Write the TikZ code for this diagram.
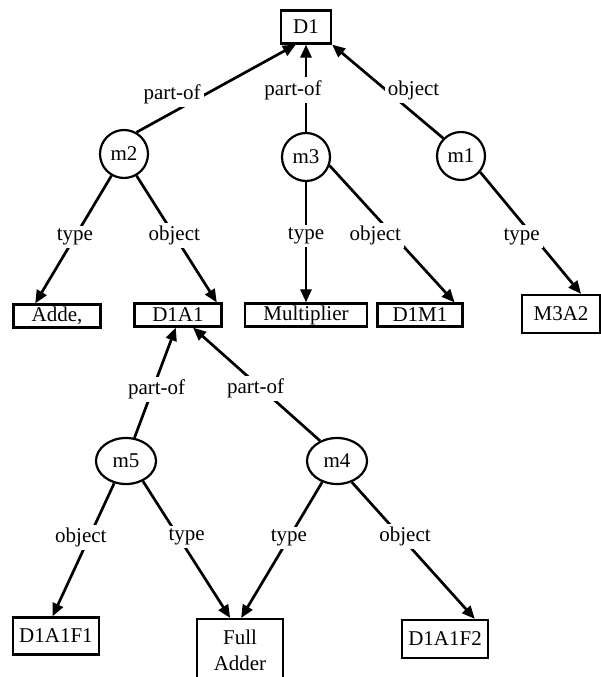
\documentclass[tikz,border=0pt]{standalone}
\usepackage{fontspec}
\setmainfont{Liberation Serif}
\usepackage{tikz}
\usetikzlibrary{arrows.meta}
\usetikzlibrary{shapes.geometric}
\newcommand{\netfont}{\fontsize{21}{26}\selectfont}

\begin{document}
\begin{tikzpicture}[x=1pt,y=-1pt,
    base/.style={draw, line width=2.2pt, inner sep=1pt, minimum height=23pt, font=\netfont},
    mol/.style={draw, circle, line width=2.2pt, inner sep=0pt, minimum size=48pt, font=\netfont},
    mol2/.style={draw, ellipse, line width=2.2pt, inner sep=0pt, minimum width=60pt, minimum height=46pt, font=\netfont},
    lbl/.style={fill=white, inner sep=3pt, font=\netfont},
    arc/.style={line width=2.7pt, -{Triangle[length=13pt,width=11pt]}}]
  \useasboundingbox (0,0) rectangle (600,677);
  % nodes
  \node[base, minimum width=50pt, minimum height=33pt] (d1) at (306,27) {D1};
  \node[mol] (m2) at (124,154) {m2};
  \node[mol] (m3) at (306,157) {m3};
  \node[mol] (m1) at (461,156) {m1};
  \node[base, minimum width=87pt] (adde) at (57,316) {Adde,};
  \node[base, minimum width=87pt] (d1a1) at (178,315) {D1A1};
  \node[base, minimum width=122pt] (mult) at (306,315) {Multiplier};
  \node[base, minimum width=85pt] (d1m1) at (420,315) {D1M1};
  \node[base, minimum width=78pt, minimum height=38pt] (m3a2) at (561,314) {M3A2};
  \node[mol2] (m5) at (126,461) {m5};
  \node[mol2] (m4) at (337,461) {m4};
  \node[base, minimum width=86pt, minimum height=37pt] (d1a1f1) at (56,636) {D1A1F1};
  \node[base, anchor=north, minimum width=86pt, minimum height=62pt, align=center] (fa) at (240,618) {Full\\Adder};
  \node[base, minimum width=86pt, minimum height=38pt] (d1a1f2) at (445,639) {D1A1F2};
  % arcs
  \draw[arc] (m2.60) -- node[lbl, pos=.43, anchor=east] {part-of} (d1.240);
  \draw[arc] (m3) -- node[lbl, pos=.48, xshift=-13pt] {part-of} (d1);
  \draw[arc] (m1.135) -- node[lbl, pos=.51, anchor=west, xshift=-3pt] {object} (d1.south east);
  \draw[arc] (m2.240) -- node[lbl, pos=.48] {type} (adde.150);
  \draw[arc] (m2.300) -- node[lbl, pos=.47] {object} (d1a1.18);
  \draw[arc] (m3) -- node[lbl, pos=.45] {type} (mult);
  \draw[arc] (m3.-20) -- node[lbl, pos=.51, xshift=-18pt] {object} (d1m1.20);
  \draw[arc] (m1.-40) -- node[lbl, pos=.53, xshift=-12pt] {type} (m3a2.45);
  \draw[arc] (m5.70) -- node[lbl, pos=.44, xshift=4pt] {part-of} (d1a1.-100);
  \draw[arc] (m4.130) -- node[lbl, pos=.46, xshift=-6pt] {part-of} (d1a1.-40);
  \draw[arc] (m5.-118) -- node[lbl, pos=.41, xshift=-8pt] {object} (d1a1f1.100);
  \draw[arc] (m5.-50) -- node[lbl, pos=.41, xshift=8pt] {type} (fa.107);
  \draw[arc] (m4.-125) -- node[lbl, pos=.41] {type} (fa.88);
  \draw[arc] (m4.-55) -- node[lbl, pos=.40, xshift=4pt] {object} (d1a1f2.34);
\end{tikzpicture}
\end{document}
